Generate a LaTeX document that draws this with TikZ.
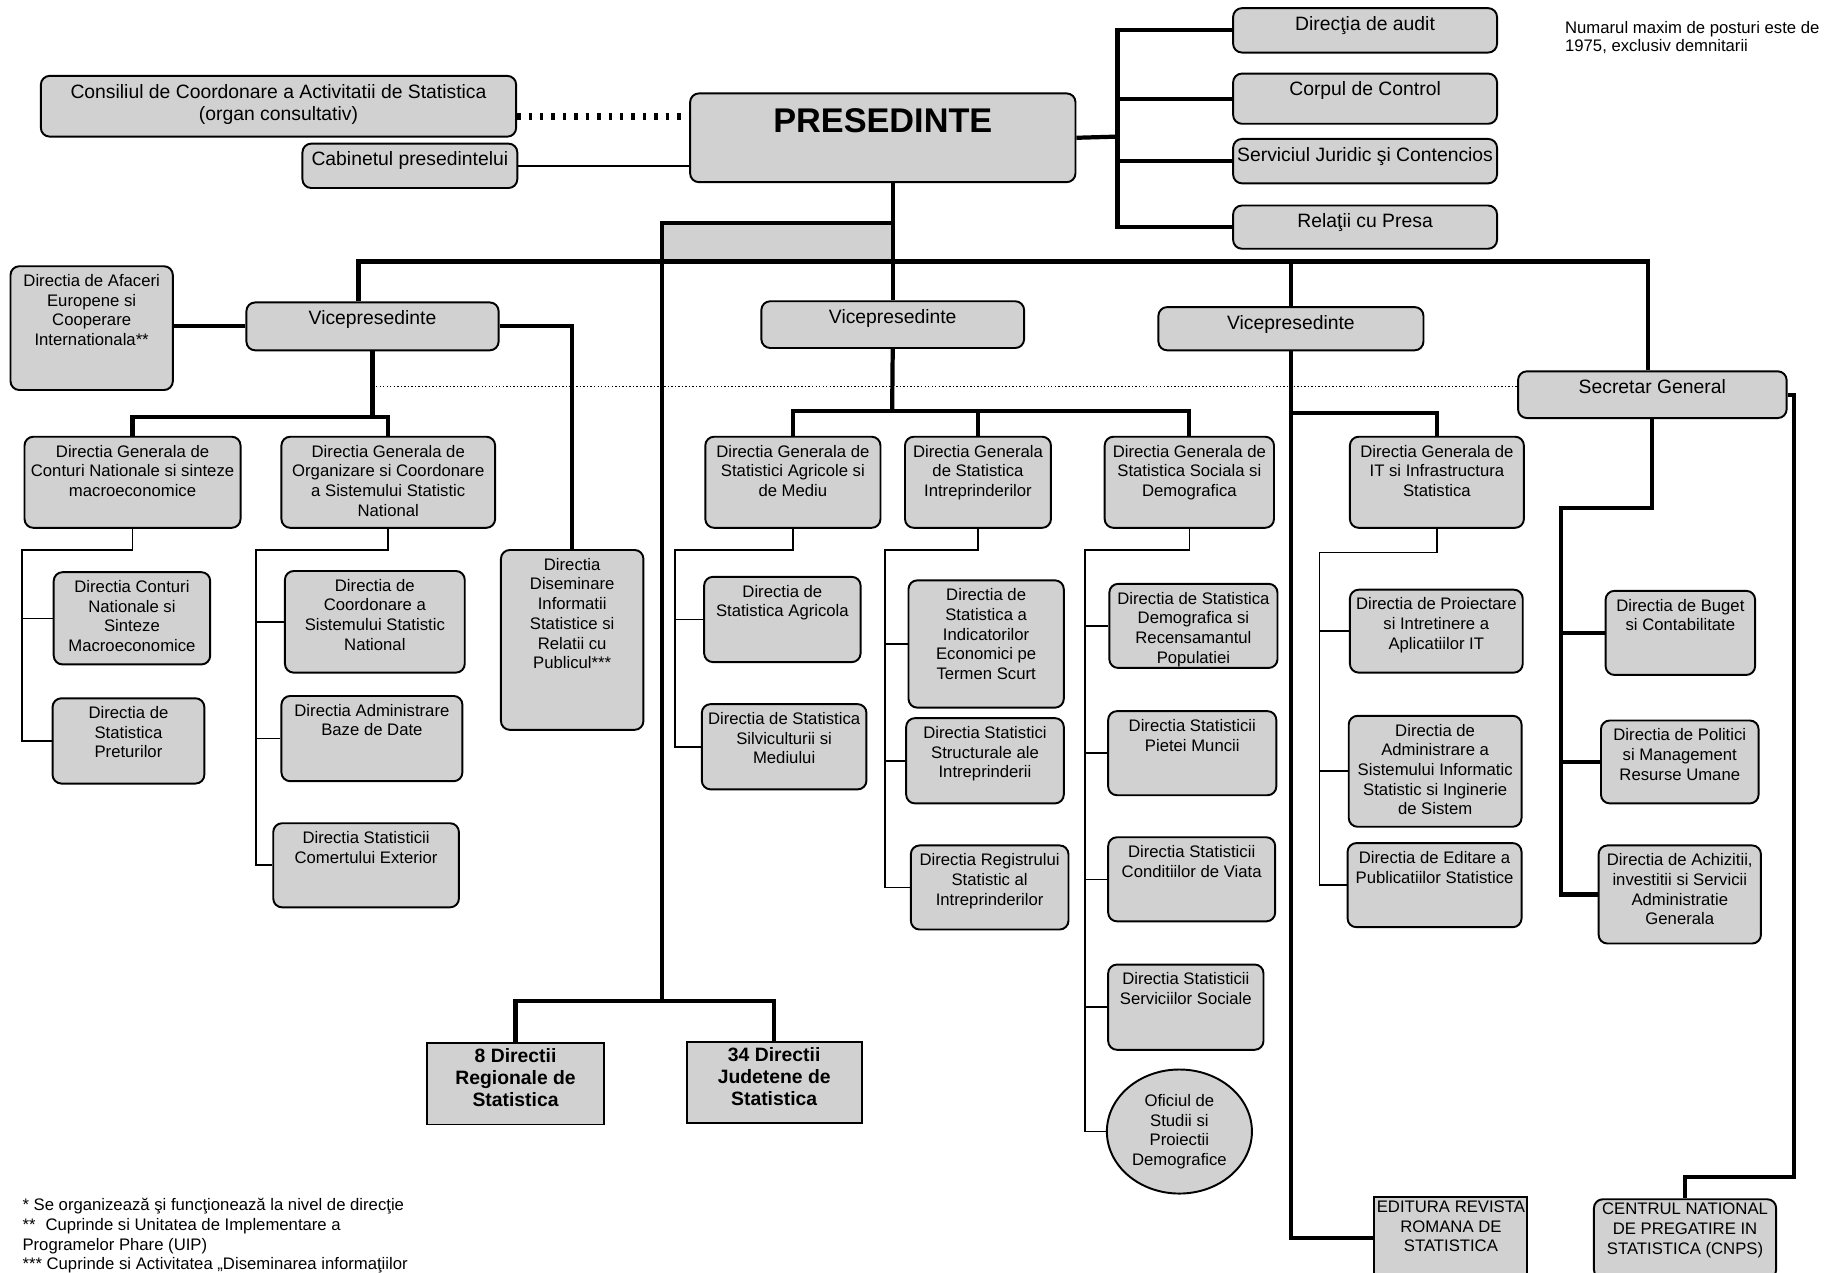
\documentclass[tikz,border=0pt]{standalone}
\usepackage{fontspec}
\setmainfont{Liberation Sans}
\usetikzlibrary{fit,shapes.geometric}
\definecolor{boxgray}{gray}{0.82}
\tikzset{%
    box/.style={draw,line width=1.1pt,fill=boxgray,rounded corners=5pt,inner sep=0pt},
    sqbox/.style={draw,line width=1.1pt,fill=boxgray,inner sep=0pt},
    oval/.style={draw,line width=1.1pt,fill=boxgray,ellipse,inner sep=0pt,minimum width=2.9cm,minimum height=2.48cm,align=center,font=\fontsize{9.5}{11.2}\selectfont},
    txt/.style={anchor=north,align=center,inner sep=5pt,font=\fontsize{9.5}{11.2}\selectfont},
    txtl/.style={anchor=north,align=center,inner sep=5pt,font=\fontsize{11}{13}\selectfont},
    txtb/.style={anchor=north,align=center,inner sep=3.5pt,font=\fontsize{11}{12.6}\selectfont\bfseries},
    txtbig/.style={anchor=north,inner sep=0pt,yshift=-9pt,font=\fontsize{19.5}{22}\selectfont\bfseries},
    thickline/.style={line width=2.4pt},
    thinline/.style={line width=0.9pt},
    dotline/.style={line width=0.8pt,dash pattern=on 0.8pt off 1.2pt},
    bigdots/.style={line width=4pt,dash pattern=on 2pt off 4.5pt}
}

\begin{document}
\begin{tikzpicture}[x=0.02335cm,y=-0.02335cm]
        \useasboundingbox (0,0) rectangle (1568,1090);

        % conducere
        \node[box,fit={(35,65)(442,117)},label={[txtl]north:{Consiliul de Coordonare a Activitatii de Statistica\\(organ consultativ)}}] (cons) {};
        \node[box,fit={(259,123)(443,161)},label={[txtl]north:{Cabinetul presedintelui}}] (cab) {};
        \node[box,fit={(591,80)(921,156)},label={[txtbig]north:PRESEDINTE}] (pres) {};
        \node[box,fit={(1056,7)(1282,45)},label={[txtl]north:{Direcţia de audit}}] (aud) {};
        \node[box,fit={(1056,63)(1282,106)},label={[txtl]north:{Corpul de Control}}] (ctl) {};
        \node[box,fit={(1056,119)(1282,157)},label={[txtl]north:{Serviciul Juridic şi Contencios}}] (jur) {};
        \node[box,fit={(1056,176)(1282,213)},label={[txtl]north:{Relaţii cu Presa}}] (rel) {};
        \node[anchor=north west,align=left,inner sep=0pt,font=\fontsize{9.5}{10.5}\selectfont] (nota) at (1340,18) {Numarul maxim de posturi este de\\1975, exclusiv demnitarii};

        % vicepresedinti
        \node[box,fit={(9,228)(148,334)},label={[txt]north:{Directia de Afaceri\\Europene si\\Cooperare\\Internationala**}}] (afc) {};
        \node[box,fit={(211,259)(427,300)},label={[txtl]north:Vicepresedinte}] (vp1) {};
        \node[box,fit={(652,258)(877,298)},label={[txtl]north:Vicepresedinte}] (vp2) {};
        \node[box,fit={(992,263)(1219,300)},label={[txtl]north:Vicepresedinte}] (vp3) {};
        \node[box,fit={(1300,318)(1530,358)},label={[txtl]north:{Secretar General}}] (sg) {};

        % directii generale
        \node[box,fit={(21,374)(206,452)},label={[txt]north:{Directia Generala de\\Conturi Nationale si sinteze\\macroeconomice}}] (dg1) {};
        \node[box,fit={(241,374)(424,452)},label={[txt]north:{Directia Generala de\\Organizare si Coordonare\\a Sistemului Statistic\\National}}] (dg2) {};
        \node[box,fit={(429,471)(551,625)},label={[txt]north:{Directia\\Diseminare\\Informatii\\Statistice si\\Relatii cu\\Publicul***}}] (dis) {};
        \node[box,fit={(604,374)(754,452)},label={[txt]north:{Directia Generala de\\Statistici Agricole si\\de Mediu}}] (dg3) {};
        \node[box,fit={(775,374)(900,452)},label={[txt]north:{Directia Generala\\de Statistica\\Intreprinderilor}}] (dg4) {};
        \node[box,fit={(946,374)(1091,452)},label={[txt]north:{Directia Generala de\\Statistica Sociala si\\Demografica}}] (dg5) {};
        \node[box,fit={(1156,374)(1305,452)},label={[txt]north:{Directia Generala de\\IT si Infrastructura\\Statistica}}] (dg6) {};

        % directii
        \node[box,fit={(46,490)(180,569)},label={[txt]north:{Directia Conturi\\Nationale si\\Sinteze\\Macroeconomice}}] (dcn) {};
        \node[box,fit={(45,598)(175,671)},label={[txt]north:{Directia de\\Statistica\\Preturilor}}] (dsp) {};
        \node[box,fit={(244,489)(398,576)},label={[txt]north:{Directia de\\Coordonare a\\Sistemului Statistic\\National}}] (dcs) {};
        \node[box,fit={(241,596)(396,669)},label={[txt]north:{Directia Administrare\\Baze de Date}}] (dab) {};
        \node[box,fit={(234,705)(393,777)},label={[txt]north:{Directia Statisticii\\Comertului Exterior}}] (dce) {};
        \node[box,fit={(603,494)(737,567)},label={[txt]north:{Directia de\\Statistica Agricola}}] (dsa) {};
        \node[box,fit={(601,603)(742,676)},label={[txt]north:{Directia de Statistica\\Silviculturii si\\Mediului}}] (dss) {};
        \node[box,fit={(778,497)(911,606)},label={[txt]north:{Directia de\\Statistica a\\Indicatorilor\\Economici pe\\Termen Scurt}}] (die) {};
        \node[box,fit={(776,615)(911,688)},label={[txt]north:{Directia Statistici\\Structurale ale\\Intreprinderii}}] (dsi) {};
        \node[box,fit={(780,724)(915,796)},label={[txt]north:{Directia Registrului\\Statistic al\\Intreprinderilor}}] (dri) {};
        \node[box,fit={(950,500)(1094,572)},label={[txt]north:{Directia de Statistica\\Demografica si\\Recensamantul\\Populatiei}}] (dsd) {};
        \node[box,fit={(949,609)(1093,681)},label={[txt]north:{Directia Statisticii\\Pietei Muncii}}] (dpm) {};
        \node[box,fit={(949,717)(1092,789)},label={[txt]north:{Directia Statisticii\\Conditiilor de Viata}}] (dcv) {};
        \node[box,fit={(949,826)(1082,899)},label={[txt]north:{Directia Statisticii\\Serviciilor Sociale}}] (dso) {};
        \node[oval] (ofi) at (1010,969) {Oficiul de\\Studii si\\Proiectii\\Demografice};
        \node[box,fit={(1156,505)(1304,576)},label={[txt]north:{Directia de Proiectare\\si Intretinere a\\Aplicatiilor IT}}] (dpi) {};
        \node[box,fit={(1155,613)(1303,708)},label={[txt]north:{Directia de\\Administrare a\\Sistemului Informatic\\Statistic si Inginerie\\de Sistem}}] (das) {};
        \node[box,fit={(1154,722)(1303,794)},label={[txt]north:{Directia de Editare a\\Publicatiilor Statistice}}] (ded) {};
        \node[box,fit={(1375,506)(1503,578)},label={[txt]north:{Directia de Buget\\si Contabilitate}}] (bug) {};
        \node[box,fit={(1371,617)(1506,688)},label={[txt]north:{Directia de Politici\\si Management\\Resurse Umane}}] (pol) {};
        \node[box,fit={(1369,724)(1508,808)},label={[txt]north:{Directia de Achizitii,\\investitii si Servicii\\Administratie\\Generala}}] (acz) {};

        % teritoriu si unitati
        \node[sqbox,fit={(366,893)(517,963)},label={[txtb]north:{8 Directii\\Regionale de\\Statistica}}] (reg) {};
        \node[sqbox,fit={(588,892)(738,962)},label={[txtb]north:{34 Directii\\Judetene de\\Statistica}}] (jud) {};
        \node[sqbox,fit={(1177,1025)(1308,1095)},label={[txt,inner sep=2.5pt]north:{EDITURA REVISTA\\ROMANA DE\\STATISTICA}}] (edit) {};
        \node[box,fit={(1365,1027)(1521,1095)},label={[txt,inner sep=2.5pt]north:{CENTRUL NATIONAL\\DE PREGATIRE IN\\STATISTICA (CNPS)}}] (cnps) {};

        \node[anchor=north west,align=left,inner sep=0pt,font=\fontsize{9.5}{11.2}\selectfont] (note) at (19,1026) {* Se organizează şi funcţionează la nivel de direcţie\\{}**\hspace{0.6em}Cuprinde si Unitatea de Implementare a\\Programelor Phare (UIP)\\{}*** Cuprinde si Activitatea „Diseminarea informaţiilor};

        % legaturi presedinte
        \coordinate (dc) at ([yshift=-6pt]cons.east);
        \coordinate (rbus) at (957,117);
        \draw[bigdots] (dc) -- (dc -| pres.west);
        \draw[thinline] (cab.east) -- (cab.east -| pres.west);
        \draw[thickline] (pres.east) -- (rbus);
        \draw[thickline] (aud.west) -| (rbus |- rel.west) -- (rel.west);
        \draw[thickline] (ctl.west) -- (ctl.west -| rbus);
        \draw[thickline] (jur.west) -- (jur.west -| rbus);

        \coordinate (busL) at (307,224);
        \coordinate (busR) at (1411,224);
        \coordinate (rtop) at (567,191);
        \coordinate (rbot) at (567,857);
        \fill[boxgray] (rtop) rectangle (busL -| vp2.north);
        \draw[thickline] (vp2.north) -- (vp2.north |- pres.south);
        \draw[thickline] (busL |- vp1.north) -- (busL) -- (busR) -- (busR |- sg.north);
        \draw[thickline] (vp3.north) -- (vp3.north |- busR);
        \draw[thickline] (rtop -| vp2.north) -- (rtop) -- (rbot);
        \draw[thickline] (reg.north) |- (rbot) -| (jud.north);

        % vicepresedinte 1
        \coordinate (b1) at (319,357);
        \coordinate (dl) at (319,331);
        \draw[thickline] (vp1.west) -- (vp1.west -| afc.east);
        \draw[thickline] (vp1.east) -| (dis.north);
        \draw[thickline] (vp1.south) -- (b1);
        \draw[thickline] (dg1.north) |- (b1) -| (dg2.north);
        \draw[dotline] (dl) -- (dl -| sg.west);

        % vicepresedinte 2
        \coordinate (b2) at (764,352);
        \draw[thickline] (vp2.south) -- (b2);
        \draw[thickline] (dg3.north) |- (b2) -| (dg5.north);
        \draw[thickline] (dg4.north) -- (dg4.north |- b2);

        % vicepresedinte 3
        \coordinate (b3) at (1105,354);
        \draw[thickline] (vp3.south) |- (edit.west);
        \draw[thickline] (b3) -| (dg6.north);

        % secretar general
        \coordinate (b4) at (1337,435);
        \coordinate (b5) at (1536,1008);
        \draw[thickline] (sg.south) |- (b4) -- (b4 |- acz.west) -- (acz.west);
        \draw[thickline] (b4 |- bug.west) -- (bug.west);
        \draw[thickline] (b4 |- pol.west) -- (pol.west);
        \draw[thickline] (sg.east) -| (b5) -| (cnps.north);

        % directii subordonate
        \coordinate (c1) at (19,471);
        \coordinate (c2) at (219,471);
        \coordinate (c3) at (578,471);
        \coordinate (c4) at (758,471);
        \coordinate (c5) at (929,471);
        \coordinate (c6) at (1130,473);
        \draw[thinline] (dg1.south) |- (c1) |- (dsp.west);
        \draw[thinline] (c1 |- dcn.west) -- (dcn.west);
        \draw[thinline] (dg2.south) |- (c2) |- (dce.west);
        \draw[thinline] (c2 |- dcs.west) -- (dcs.west);
        \draw[thinline] (c2 |- dab.west) -- (dab.west);
        \draw[thinline] (dg3.south) |- (c3) |- (dss.west);
        \draw[thinline] (c3 |- dsa.west) -- (dsa.west);
        \draw[thinline] (dg4.south) |- (c4) |- (dri.west);
        \draw[thinline] (c4 |- die.west) -- (die.west);
        \draw[thinline] (c4 |- dsi.west) -- (dsi.west);
        \draw[thinline] (dg5.south) |- (c5) |- (ofi.west);
        \draw[thinline] (c5 |- dsd.west) -- (dsd.west);
        \draw[thinline] (c5 |- dpm.west) -- (dpm.west);
        \draw[thinline] (c5 |- dcv.west) -- (dcv.west);
        \draw[thinline] (c5 |- dso.west) -- (dso.west);
        \draw[thinline] (dg6.south) |- (c6) |- (ded.west);
        \draw[thinline] (c6 |- dpi.west) -- (dpi.west);
        \draw[thinline] (c6 |- das.west) -- (das.west);
    \end{tikzpicture}
\end{document}
